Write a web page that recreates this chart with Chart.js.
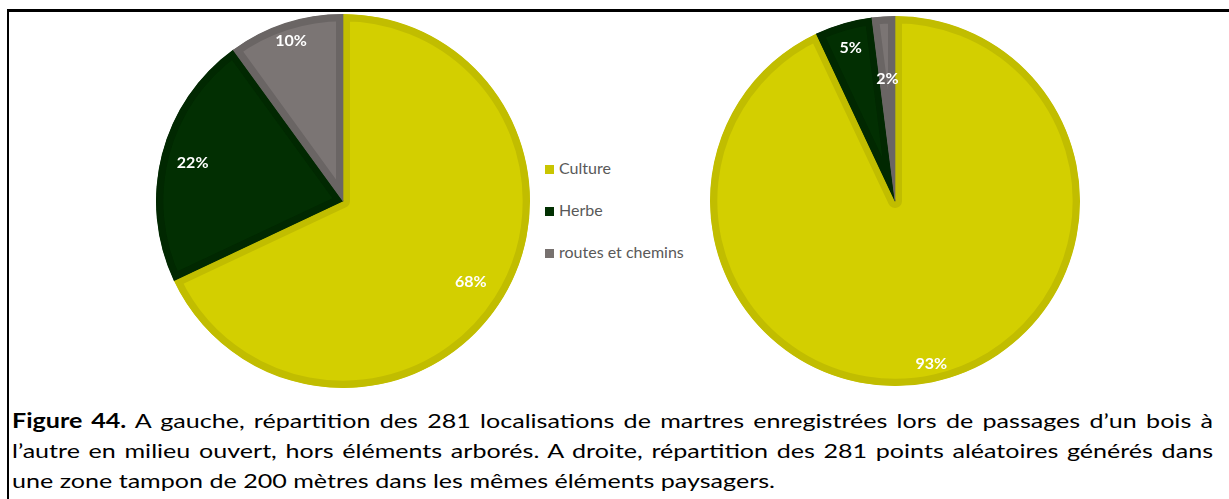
<!DOCTYPE html>
<html>
<head>
<meta charset="utf-8">
<script src="https://cdn.jsdelivr.net/npm/chart.js@4.4.1/dist/chart.umd.min.js"></script>
<style>
  body { margin: 0; width: 1229px; height: 499px; background: #fff; overflow: hidden; position: relative; }
  #frame { position: absolute; left: 7px; top: 9px; width: 1225px; height: 500px; border-left: 2px solid #000; border-top: 3px solid #000; }
  .pie { position: absolute; }
  #legend { position: absolute; left: 545px; top: 158px; font-family: Lato, "Open Sans", sans-serif; font-size: 16px; color: #595959; }
  #legend div { height: 42px; line-height: 20px; white-space: nowrap; }
  #legend span.box { display: inline-block; width: 9px; height: 9px; margin-right: 5px; vertical-align: 0px; }
  #caption { position: absolute; left: 12px; top: 405px; font-family: Lato, "Open Sans", sans-serif; font-size: 20px; line-height: 30px; color: #000; }
  #caption div { white-space: nowrap; transform-origin: 0 0; height: 30px; }
  #caption div.full { text-align: justify; text-align-last: justify; }
  #caption div.last { display: inline-block; }
</style>
</head>
<body>
<div id="frame"></div>
<div class="pie" style="left:156px; top:14px;"><canvas id="left" width="374" height="374"></canvas></div>
<div class="pie" style="left:710px; top:16px;"><canvas id="right" width="370" height="370"></canvas></div>
<div id="legend"></div>
<div id="caption">
  <div class="full"><b>Figure 44.</b> A gauche, répartition des 281 localisations de martres enregistrées lors de passages d’un bois à</div>
  <div class="full">l’autre en milieu ouvert, hors éléments arborés. A droite, répartition des 281 points aléatoires générés dans</div>
  <div class="last">une zone tampon de 200 mètres dans les mêmes éléments paysagers.</div>
</div>
<script>
var categories = ['Culture', 'Herbe', 'routes et chemins'];
var leftValues = [68, 22, 10];
var rightValues = [93, 5, 2];

var fillColors = ['#d3cf00', '#022f02', '#7b7574'];
var rimColors = ['#c1bd00', '#012801', '#6a6564'];
var legendColors = ['#c9c500', '#013001', '#77716f'];

// how far out each percentage label sits (fraction of radius)
var leftLabelPos = [0.81, 0.83, 0.9];
var rightLabelPos = [0.9, 0.86, 0.66];

var pctLabels = {
  id: 'pctLabels',
  afterDatasetsDraw: function(chart, args, opts) {
    var ctx = chart.ctx;
    var meta = chart.getDatasetMeta(0);
    var data = chart.data.datasets[0].data;
    ctx.save();
    ctx.fillStyle = '#ffffff';
    ctx.font = 'bold 16px Lato, "Open Sans", sans-serif';
    ctx.textAlign = 'center';
    ctx.textBaseline = 'middle';
    meta.data.forEach(function(arc, i) {
      var p = arc.getProps(['x', 'y', 'startAngle', 'endAngle', 'outerRadius'], true);
      var mid = (p.startAngle + p.endAngle) / 2;
      var r = p.outerRadius * opts.pos[i];
      ctx.fillText(data[i] + '%', p.x + Math.cos(mid) * r, p.y + Math.sin(mid) * r);
    });
    ctx.restore();
  }
};

function makePie(id, values, labelPos) {
  var ctx = document.getElementById(id).getContext('2d');
  return new Chart(ctx, {
    type: 'pie',
    data: {
      labels: categories,
      datasets: [{
        data: values,
        backgroundColor: fillColors,
        borderColor: rimColors,
        borderWidth: 7,
        borderAlign: 'inner'
      }]
    },
    options: {
      responsive: false,
      animation: false,
      events: [],
      plugins: {
        legend: { display: false },
        tooltip: { enabled: false },
        pctLabels: { pos: labelPos }
      }
    },
    plugins: [pctLabels]
  });
}

makePie('left', leftValues, leftLabelPos);
makePie('right', rightValues, rightLabelPos);

var legend = document.getElementById('legend');
categories.forEach(function(c, i) {
  var row = document.createElement('div');
  var box = document.createElement('span');
  box.className = 'box';
  box.style.background = legendColors[i];
  row.appendChild(box);
  row.appendChild(document.createTextNode(c));
  legend.appendChild(row);
});

// caption text in the reference is horizontally stretched; fit the last line
var last = document.querySelector('#caption .last');
var s = 763 / last.getBoundingClientRect().width;
document.querySelectorAll('#caption div').forEach(function(d) {
  if (d.classList.contains('full')) d.style.width = (1201 / s) + 'px';
  d.style.transform = 'scaleX(' + s + ')';
});
</script>
</body>
</html>
